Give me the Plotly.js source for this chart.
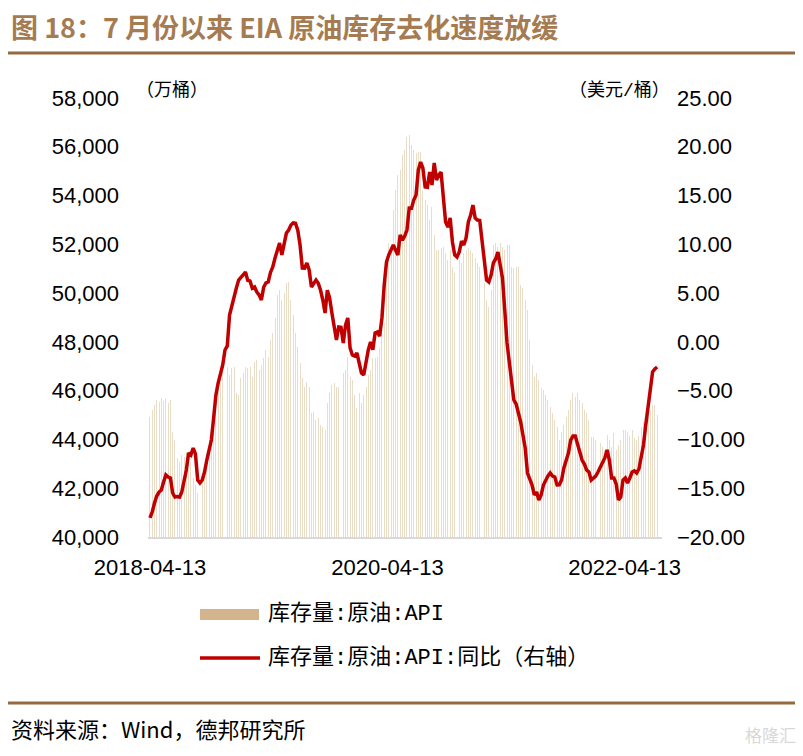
<!DOCTYPE html>
<html>
<head>
<meta charset="utf-8">
<script src="https://cdn.plot.ly/plotly-3.0.1.min.js"></script>
<style>
html,body{margin:0;padding:0;background:#fff;}
#chart{width:803px;height:756px;}
</style>
</head>
<body>
<div id="chart"></div>
<script>
// ---- data (weekly, starting 2018-04-13) ----
const startDate = '2018-04-13';
const xTickVals = ['2018-04-13', '2020-04-13', '2022-04-13'];
const xTickText = ['2018-04-13', '2020-04-13', '2022-04-13'];
const leftTicks = [40000, 42000, 44000, 46000, 48000, 50000, 52000, 54000, 56000, 58000];
const rightTicks = [-20, -15, -10, -5, 0, 5, 10, 15, 20, 25];

// 库存量:原油:API (万桶)
const apiStock = [
  44920, 45210, 45410, 45620, 45540, 45700, 45580, 45660, 45490, 45600,
  44300, 43980, 43240, 43080, 43360, 43280, 43490, 42750, 43080, 42420,
  42130, 41800, 42010, 42340, 42750, 43440, 43980, 44100, 44590, 45620,
  46150, 46310, 46720, 46850, 46970, 46640, 46930, 46970, 45900, 45820,
  46520, 46720, 46970, 46930, 46980, 46560, 47180, 47260, 46850, 47050,
  47340, 47670, 47380, 48080, 48360, 48980, 49920, 50130, 49720, 50000,
  50410, 50450, 49720, 49100, 48360, 47790, 47130, 46520, 46150, 46360,
  46150, 45080, 45120, 44800, 44880, 44590, 44510, 44390, 45490, 45900,
  46230, 46310, 46150, 46160, 46770, 46720, 46850, 47380, 46560, 46440,
  45820, 45290, 45900, 45490, 45820, 46150, 46640, 46850, 47340, 47340,
  47380, 47750, 49310, 48770, 50540, 52050, 51640, 53410, 54230, 54840,
  55050, 55660, 55870, 56400, 56480, 56070, 55870, 55740, 55780, 55790,
  54230, 53820, 53610, 53000, 53530, 52380, 51770, 51770, 51850, 51890,
  51640, 51360, 51770, 51070, 50820, 51070, 51360, 51230, 51640, 51770,
  51850, 51770, 51640, 51440, 51230, 51070, 50660, 50410, 49720, 49430,
  50130, 51970, 52050, 51890, 52050, 51890, 51770, 51970, 51960, 51070,
  51030, 51070, 51070, 50330, 50210, 49720, 49310, 48080, 47050, 46560,
  46720, 46440, 46110, 46030, 45820, 45620, 45330, 45080, 44800, 44510,
  43980, 44300, 44590, 44920, 45210, 45620, 45900, 45740, 45910, 45620,
  45490, 45210, 45080, 44800, 44100, 44100, 43980, 44060, 43850, 43690,
  43570, 44180, 43980, 43690, 44260, 43570, 43770, 43980, 44390, 44390,
  44300, 44140, 44390, 44060, 43980, 44140, 44510, 44720, 44800, 44920,
  45210, 45410, 45410, 45000
];

// 库存量:原油:API:同比 (右轴)
const apiYoY = [
  -18.05, -17.44, -16.51, -15.80, -15.39, -15.18, -14.36, -13.64, -13.85, -13.95,
  -15.49, -15.90, -15.85, -15.92, -15.39, -14.36, -13.13, -11.39, -11.59, -10.88,
  -11.49, -14.16, -14.46, -14.16, -13.34, -12.11, -10.88, -10.06, -7.80, -5.44,
  -4.21, -3.39, -2.37, -0.83, -0.42, 2.76, 3.78, 4.50, 5.52, 6.34,
  6.65, 6.86, 7.16, 6.30, 6.24, 5.50, 5.63, 5.11, 4.81, 4.29,
  5.60, 6.04, 6.14, 7.12, 7.68, 8.60, 9.42, 10.14, 8.91, 10.10,
  11.16, 11.47, 11.98, 12.19, 12.15, 11.45, 9.93, 7.57, 7.55, 8.09,
  7.37, 5.63, 6.04, 6.34, 6.00, 5.32, 4.29, 2.96, 5.30, 4.50,
  2.95, 1.73, 0.19, 1.53, 1.50, -0.11, 1.75, 2.45, -0.63, -1.34,
  -1.45, -1.14, -2.06, -3.19, -3.39, -1.86, -0.83, -0.01, -0.80, 0.91,
  1.01, 0.60, 2.45, 5.83, 8.19, 8.91, 9.42, 9.93, 9.40, 8.91,
  10.96, 10.44, 10.85, 11.47, 13.72, 13.70, 14.54, 15.06, 17.62, 18.44,
  17.82, 15.88, 15.85, 17.41, 16.08, 18.34, 16.59, 17.11, 17.40, 15.06,
  12.29, 11.78, 12.70, 10.24, 8.91, 8.70, 9.21, 10.34, 9.93, 10.65,
  12.29, 13.01, 14.03, 12.70, 12.49, 12.45, 10.65, 8.39, 6.34, 6.14,
  6.86, 8.09, 8.50, 9.21, 7.88, 6.55, 3.27, -0.11, -2.06, -3.70,
  -5.96, -6.37, -7.29, -8.21, -9.54, -10.88, -13.44, -14.16, -14.67, -15.69,
  -15.39, -16.21, -15.69, -14.67, -14.16, -13.75, -13.44, -13.75, -13.85, -14.67,
  -14.65, -14.16, -12.93, -12.11, -11.39, -10.06, -9.65, -9.65, -10.36, -11.29,
  -12.11, -12.52, -13.13, -13.34, -14.16, -13.95, -13.75, -13.34, -12.82, -12.52,
  -11.90, -11.08, -12.11, -13.95, -13.95, -14.57, -16.21, -15.90, -14.16, -13.95,
  -14.46, -13.95, -13.34, -13.23, -13.44, -13.03, -11.90, -10.57, -8.52, -6.47,
  -4.42, -3.09, -2.78, -2.57
];

// weekly dates
const dates = [];
(function(){
  const d0 = new Date(startDate + 'T00:00:00Z');
  for (let i = 0; i < apiStock.length; i++) {
    const d = new Date(d0.getTime() + i * 7 * 86400000);
    dates.push(d.toISOString().slice(0, 10));
  }
})();

// ---- geometry helpers (pixel -> paper) ----
const W = 803, H = 756;
const ML = 148, MR = 141, MT = 98, MB = 219;
const PW = W - ML - MR, PH = H - MT - MB;
const px = x => (x - ML) / PW;
const py = y => (H - MB - y) / PH;

const cjk = '"Noto Sans CJK SC", "Noto Sans", sans-serif';
const mixed = '"Liberation Mono", "Noto Sans CJK SC", monospace';
const latin = '"Liberation Sans", Arial, sans-serif';

const traces = [
  {
    type: 'bar',
    x: dates,
    y: apiStock,
    name: '库存量:原油:API',
    marker: {color: '#EADDC7', line: {width: 0}},
    width: 3.0 * 86400000,
    yaxis: 'y'
  },
  {
    type: 'scatter',
    mode: 'lines',
    x: dates,
    y: apiYoY,
    name: '库存量:原油:API:同比（右轴）',
    line: {color: '#C00000', width: 3.5},
    yaxis: 'y2'
  }
];

const layout = {
  width: W, height: H,
  margin: {l: ML, r: MR, t: MT, b: MB, pad: 0},
  paper_bgcolor: '#ffffff',
  plot_bgcolor: '#ffffff',
  showlegend: false,
  bargap: 0,
  title: {
    text: '<b>图 18：7 月份以来 EIA 原油库存去化速度放缓</b>',
    font: {family: cjk, size: 27, color: '#A57C52'},
    x: 11 / W, xanchor: 'left', xref: 'container',
    y: 1 - 29 / H, yanchor: 'middle', yref: 'container'
  },
  xaxis: {
    type: 'date',
    range: ['2018-04-07', '2022-08-06'],
    tickmode: 'array',
    tickvals: xTickVals,
    ticktext: xTickText,
    showgrid: false,
    zeroline: false,
    showline: true,
    linecolor: '#D9D9D9',
    linewidth: 2,
    ticks: '',
    ticklabelstandoff: 10,
    tickfont: {family: latin, size: 22, color: '#000'}
  },
  yaxis: {
    range: [40000, 58000],
    tickmode: 'array',
    tickvals: leftTicks,
    tickformat: ',d',
    showgrid: false,
    zeroline: false,
    showline: false,
    ticks: '',
    ticklabelstandoff: 28,
    tickfont: {family: latin, size: 22, color: '#000'}
  },
  yaxis2: {
    overlaying: 'y',
    side: 'right',
    range: [-20, 25],
    tickmode: 'array',
    tickvals: rightTicks,
    tickformat: '.2f',
    showgrid: false,
    zeroline: false,
    showline: false,
    ticks: '',
    ticklabelstandoff: 14,
    tickfont: {family: latin, size: 22, color: '#000'}
  },
  shapes: [
    {type: 'line', xref: 'paper', yref: 'paper', x0: px(8), x1: px(795), y0: py(53), y1: py(53),
     line: {color: '#946A3F', width: 3}},
    {type: 'line', xref: 'paper', yref: 'paper', x0: px(8), x1: px(795), y0: py(703), y1: py(703),
     line: {color: '#946A3F', width: 3}},
    {type: 'rect', xref: 'paper', yref: 'paper', x0: px(200), x1: px(259), y0: py(620), y1: py(609),
     line: {width: 0}, fillcolor: '#D4B48C'},
    {type: 'line', xref: 'paper', yref: 'paper', x0: px(200), x1: px(260), y0: py(658), y1: py(658),
     line: {color: '#C00000', width: 3.5}}
  ],
  annotations: [
    {text: '（万桶）', xref: 'paper', yref: 'paper', x: px(134), y: py(91), xanchor: 'left', yanchor: 'middle',
     showarrow: false, font: {family: mixed, size: 18, color: '#000'}},
    {text: '（美元/桶）', xref: 'paper', yref: 'paper', x: px(672), y: py(91), xanchor: 'right', yanchor: 'middle',
     showarrow: false, font: {family: mixed, size: 18, color: '#000'}},
    {text: '库存量:原油:API', xref: 'paper', yref: 'paper', x: px(266), y: py(614), xanchor: 'left', yanchor: 'middle',
     showarrow: false, font: {family: mixed, size: 22, color: '#000'}},
    {text: '库存量:原油:API:同比（右轴）', xref: 'paper', yref: 'paper', x: px(266), y: py(658), xanchor: 'left', yanchor: 'middle',
     showarrow: false, font: {family: mixed, size: 22, color: '#000'}},
    {text: '资料来源：Wind，德邦研究所', xref: 'paper', yref: 'paper', x: px(9), y: py(728), xanchor: 'left', yanchor: 'middle',
     showarrow: false, font: {family: cjk, size: 22, color: '#000'}},
    {text: '格隆汇', xref: 'paper', yref: 'paper', x: px(798), y: py(734), xanchor: 'right', yanchor: 'middle',
     showarrow: false, font: {family: cjk, size: 17, color: '#D8D8D8'}}
  ]
};

Plotly.newPlot('chart', traces, layout, {displayModeBar: false, responsive: false, staticPlot: true});
</script>
</body>
</html>
